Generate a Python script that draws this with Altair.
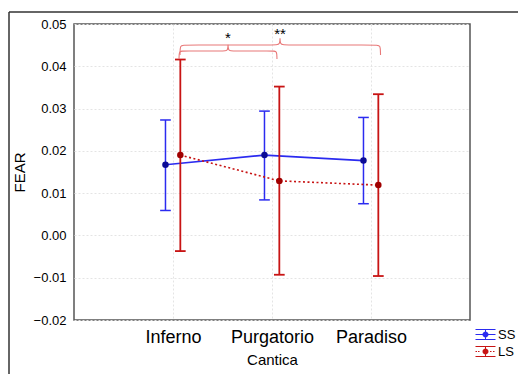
import altair as alt
import pandas as pd

# ---- data ----
categories = ["Inferno", "Purgatorio", "Paradiso"]
series_names = ["SS", "LS"]
ss_mean = [0.0167, 0.0190, 0.0177]
ss_low = [0.0059, 0.0084, 0.0075]
ss_high = [0.0273, 0.0294, 0.0279]
ls_mean = [0.0190, 0.0129, 0.0119]
ls_low = [-0.0037, -0.0093, -0.0096]
ls_high = [0.0416, 0.0352, 0.0334]
y_ticks = [-0.02, -0.01, 0.0, 0.01, 0.02, 0.03, 0.04, 0.05]

# significance brackets: (start, end, tip, level, end-depth, tip-height) in data units
brace_x0 = [1.061, 1.071]
brace_x1 = [2.050, 3.096]
brace_xm = [1.556, 2.081]
brace_level = [0.04362, 0.04504]
brace_end = [0.04173, 0.04267]
brace_tip = [0.04580, 0.04740]
star_text = ["*", "**"]
star_y = [0.04560, 0.04640]

# ---- styles ----
line_colors = {"SS": "#2b2bf0", "LS": "#c81414"}
point_colors = {"SS": "#0b0b95", "LS": "#a00000"}
offsets = {"SS": -0.076, "LS": 0.074}
cap_half = 0.054
FONT = "Liberation Sans"

means = {"SS": ss_mean, "LS": ls_mean}
lows = {"SS": ss_low, "LS": ls_low}
highs = {"SS": ss_high, "LS": ls_high}

rows = []
for s in series_names:
    for i, c in enumerate(categories):
        xp = i + 1 + offsets[s]
        rows.append({"series": s, "cantica": c, "x": xp,
                     "xl": xp - cap_half, "xr": xp + cap_half,
                     "mean": means[s][i], "low": lows[s][i], "high": highs[s][i]})
df = pd.DataFrame(rows)

label_expr = "[''," + ",".join("'%s'" % c for c in categories) + ",''][datum.value]"

xscale = alt.Scale(domain=[0, 4], nice=False, zero=False)
yscale = alt.Scale(domain=[-0.02, 0.05], nice=False, zero=False)

x_axis = alt.Axis(values=[1, 2, 3], labelExpr=label_expr, title="Cantica",
                  labelFontSize=18, labelPadding=8, ticks=False, domain=False,
                  grid=True, gridColor="#e4e4e4", gridDash=[2, 2],
                  titleFontSize=15, titleFontWeight="normal", titlePadding=6,
                  labelColor="#000", titleColor="#000")
y_axis = alt.Axis(values=y_ticks, format=".2f", title="FEAR",
                  labelFontSize=13, labelPadding=8, ticks=False, domain=False,
                  grid=True, gridColor="#e4e4e4", gridDash=[2, 2],
                  titleFontSize=15, titleFontWeight="normal",
                  titleX=-47, titleY=148, titleAngle=270, titleAlign="center",
                  titleBaseline="bottom",
                  labelColor="#000", titleColor="#000")

layers = []
base = alt.Chart(df)
first = True
for s in series_names:
    d = base.transform_filter(alt.datum.series == s)
    col = line_colors[s]
    sw = 1.5 if s == "SS" else 1.8
    if first:
        xenc = alt.X("x:Q", scale=xscale, axis=x_axis)
        yenc = alt.Y("low:Q", scale=yscale, axis=y_axis)
        first = False
    else:
        xenc = alt.X("x:Q", scale=xscale)
        yenc = alt.Y("low:Q", scale=yscale)
    # vertical error bar
    layers.append(d.mark_rule(color=col, strokeWidth=sw).encode(x=xenc, y=yenc, y2="high:Q"))
    # caps
    layers.append(d.mark_rule(color=col, strokeWidth=sw).encode(
        x=alt.X("xl:Q", scale=xscale), x2="xr:Q", y=alt.Y("low:Q", scale=yscale)))
    layers.append(d.mark_rule(color=col, strokeWidth=sw).encode(
        x=alt.X("xl:Q", scale=xscale), x2="xr:Q", y=alt.Y("high:Q", scale=yscale)))
    # connecting line
    if s == "SS":
        ln = d.mark_line(color=col, strokeWidth=1.6)
    else:
        ln = d.mark_line(color=col, strokeWidth=1.6, strokeDash=[2, 2.5])
    layers.append(ln.encode(x=alt.X("x:Q", scale=xscale), y=alt.Y("mean:Q", scale=yscale)))
    # mean point
    layers.append(d.mark_point(filled=True, size=42, opacity=1, color=point_colors[s]).encode(
        x=alt.X("x:Q", scale=xscale), y=alt.Y("mean:Q", scale=yscale)))

# braces
brows = []
for b in range(len(brace_x0)):
    xa, xb, xm = brace_x0[b], brace_x1[b], brace_xm[b]
    yl, ye, yt = brace_level[b], brace_end[b], brace_tip[b]
    r = 0.04
    pts = [(xa, ye), (xa, yl), (xa + r, yl), (xm - r, yl), (xm, yl), (xm, yt),
           (xm, yl), (xm + r, yl), (xb - r, yl), (xb, yl), (xb, ye)]
    for k, (px, py) in enumerate(pts):
        brows.append({"brace": b, "k": k, "bx": px, "by": py})
bdf = pd.DataFrame(brows)
layers.append(alt.Chart(bdf).mark_line(interpolate="basis", color="#e87878", strokeWidth=1.1).encode(
    x=alt.X("bx:Q", scale=xscale), y=alt.Y("by:Q", scale=yscale),
    detail="brace:N", order="k:Q"))

sdf = pd.DataFrame({"sx": brace_xm, "sy": star_y, "t": star_text})
layers.append(alt.Chart(sdf).mark_text(fontSize=15, font=FONT, color="#000",
                                       baseline="alphabetic", align="center").encode(
    x=alt.X("sx:Q", scale=xscale), y=alt.Y("sy:Q", scale=yscale), text="t:N"))

# legend (symbols built as custom paths)
def sym(dotted):
    p = ("M-2,-1.1H2V-0.9H-2Z M-2,0.9H2V1.1H-2Z "
         "M-0.1,-1.1H0.1V1.1H-0.1Z "
         "M-0.6,0A0.6,0.6 0 1,1 0.6,0A0.6,0.6 0 1,1 -0.6,0Z ")
    if dotted:
        for x0 in [-2.0, -1.5, 0.9, 1.5]:
            p += "M%.2f,-0.1H%.2fV0.1H%.2fZ " % (x0, x0 + 0.3, x0)
    else:
        p += "M-2,-0.1H2V0.1H-2Z"
    return p.strip()

leg_opts = dict(title=None, orient="none", legendX=405, legendY=304,
                symbolSize=100, symbolStrokeWidth=0, symbolOpacity=1,
                labelFontSize=13, labelFont=FONT, labelColor="#000",
                labelOffset=6, rowPadding=3, padding=0)
leg_df = pd.DataFrame({"series": series_names})
legend_layer = alt.Chart(leg_df).mark_point(filled=True, opacity=0).encode(
    color=alt.Color("series:N", scale=alt.Scale(domain=series_names,
                                                range=[line_colors["SS"], line_colors["LS"]]),
                    legend=alt.Legend(**leg_opts)),
    shape=alt.Shape("series:N", scale=alt.Scale(domain=series_names,
                                                range=[sym(False), sym(True)]),
                    legend=alt.Legend(**leg_opts)),
)
layers.append(legend_layer)

# outer frame
fdf = pd.DataFrame({"a": [0]})
layers.append(alt.Chart(fdf).mark_rule(color="#333", strokeWidth=1.5).encode(
    x=alt.value(-65), y=alt.value(-12), y2=alt.value(360)))
layers.append(alt.Chart(fdf).mark_rule(color="#333", strokeWidth=1.5).encode(
    x=alt.value(-65), x2=alt.value(460), y=alt.value(-12)))

chart = alt.layer(*layers).properties(
    width=396, height=296,
    autosize=alt.AutoSizeParams(type="none"),
    padding={"left": 66, "top": 16, "right": 48, "bottom": 54},
    background="white",
).configure_view(stroke="#555", strokeWidth=1.5).configure_axis(
    labelFont=FONT, titleFont=FONT
).configure_legend(labelFont=FONT)

chart.save("out.html", embed_options={"renderer": "svg", "actions": False})
